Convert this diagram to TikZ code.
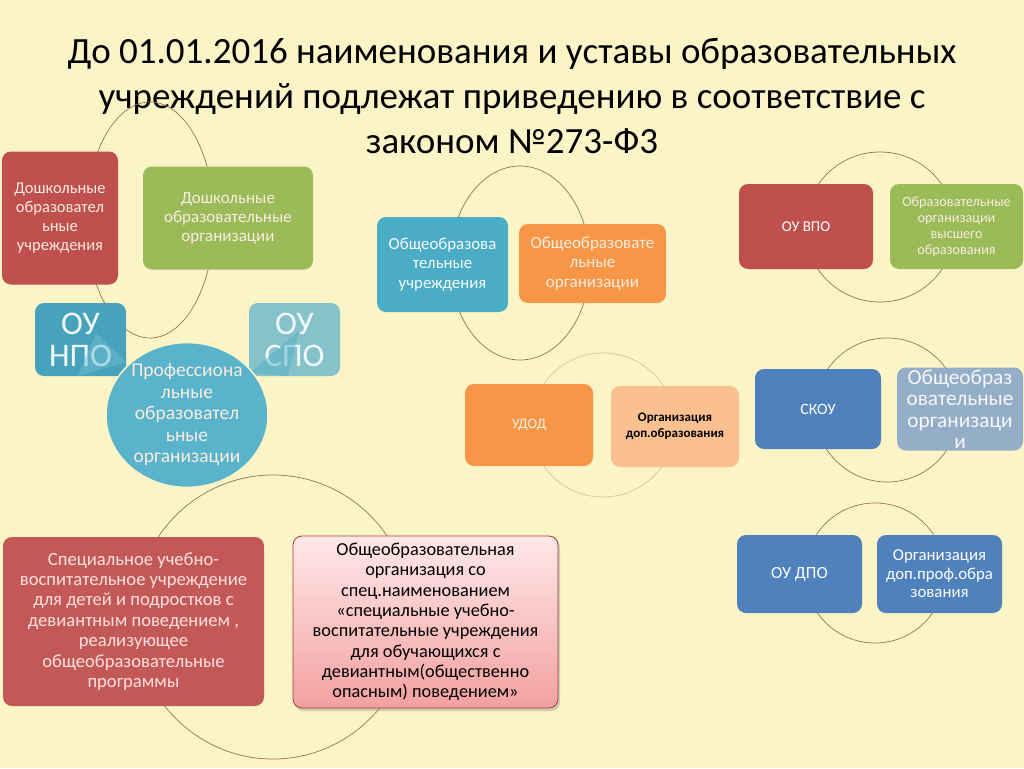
\documentclass[tikz,border=0pt]{standalone}
\usepackage{fontspec}
\setmainfont{Carlito}
\usepackage{tikz}
\usetikzlibrary{shadows, shapes.geometric}
\definecolor{bgyellow}{RGB}{251,244,199}
\definecolor{ofred}{RGB}{192,80,77}
\definecolor{ofgreen}{RGB}{155,187,89}
\definecolor{ofteal}{RGB}{75,172,198}
\definecolor{oforange}{RGB}{247,150,70}
\definecolor{oflightor}{RGB}{250,192,144}
\definecolor{ofblue}{RGB}{79,129,189}
\definecolor{greyblue}{RGB}{149,174,200}
\definecolor{paleteal}{RGB}{134,194,202}
\definecolor{arcbrown}{RGB}{150,115,85}
\definecolor{arcpale}{RGB}{215,195,160}
\definecolor{creamtext}{RGB}{250,236,222}
\definecolor{pinktop}{RGB}{255,232,232}
\definecolor{pinkbot}{RGB}{243,160,160}

\begin{document}
\begin{tikzpicture}[x=1pt, y=-1pt,
    box/.style={rounded corners=9pt, align=center, inner sep=2pt, text=creamtext},
    cyc/.style={draw=arcbrown, line width=0.7pt}]
    \useasboundingbox (0,0) rectangle (1024,768);
    \fill[bgyellow] (0,0) rectangle (1024,768);

    % Title
    \node[align=center, font=\fontsize{37}{45}\selectfont] (title) at (512,96)
        {До 01.01.2016 наименования и уставы образовательных\\
         учреждений подлежат приведению в соответствие с\\
         законом №273-Ф3};

    % Cycles
    \draw[cyc] (150,220) ellipse (64 and 118);
    \draw[cyc] (520,263) ellipse (70 and 97);
    \draw[cyc, draw=arcpale] (603,425) circle (72);
    \draw[cyc] (880,227) circle (75);
    \draw[cyc] (887,410) circle (72);
    \draw[cyc] (875,573) circle (70);
    \draw[cyc] (273,617) ellipse (139 and 142);

    % Boxes
    \node[box, fill=ofred, minimum width=116pt, minimum height=133pt,
          font=\fontsize{16.5}{19}\selectfont] (dou) at (60,218)
        {Дошкольные\\образовател\\ьные\\учреждения};
    \node[box, fill=ofgreen, minimum width=170pt, minimum height=103pt,
          font=\fontsize{17}{19}\selectfont] (doo) at (228,218)
        {Дошкольные\\образовательные\\организации};
    \node[box, fill=ofteal!95!black, minimum width=91pt, minimum height=73pt,
          text=white!92!ofteal, font=\fontsize{33}{32}\selectfont] (npo) at (80.5,339.5)
        {ОУ\\НПО};
    \node[box, fill=paleteal, minimum width=91pt, minimum height=73pt,
          text=white!92!ofteal, font=\fontsize{33}{32}\selectfont] (spo) at (294.5,339.5)
        {ОУ\\СПО};
    \fill[ofteal!80!white, opacity=0.5] (96,333) -- (126,362) -- (78,376) -- cycle;
    \fill[ofteal, opacity=0.45] (299,331) -- (288,376) -- (250,373) -- cycle;
    \node[ellipse, fill=ofteal!92!white, draw=bgyellow, line width=1.5pt,
          minimum width=162pt, minimum height=130pt, inner sep=0pt, align=center,
          text=creamtext, font=\fontsize{19.5}{21.5}\selectfont] (prof) at (187,415)
        {Профессиона\\льные\\образовател\\ьные\\организации};

    \node[box, fill=ofteal, minimum width=131pt, minimum height=95pt,
          text=white!95!ofteal, font=\fontsize{16.8}{19.5}\selectfont] (obu) at (442.5,264.5)
        {Общеобразова\\тельные\\учреждения};
    \node[box, fill=oforange, minimum width=147pt, minimum height=79pt,
          font=\fontsize{17}{19.5}\selectfont] (obo) at (592.5,263.5)
        {Общеобразовате\\льные\\организации};

    \node[box, fill=oforange, minimum width=128pt, minimum height=82pt,
          font=\fontsize{14.5}{15}\selectfont] (udod) at (529,425) {УДОД};
    \node[box, fill=oflightor, minimum width=128pt, minimum height=81pt,
          text=black, font=\fontsize{13}{16}\selectfont\bfseries] (orgdop) at (675,426.5)
        {Организация\\доп.образования};

    \node[box, fill=ofred, minimum width=134pt, minimum height=85pt,
          text=white, font=\fontsize{15}{16}\selectfont] (vpo) at (806,226.5) {ОУ ВПО};
    \node[box, fill=ofgreen, minimum width=133pt, minimum height=85pt,
          font=\fontsize{14.2}{16}\selectfont] (ovo) at (956.5,226.5)
        {Образовательные\\организации\\высшего\\образования};

    \node[box, fill=ofblue, minimum width=126pt, minimum height=80pt,
          text=white, font=\fontsize{15.8}{17}\selectfont] (skou) at (818,409) {СКОУ};
    \node[box, fill=greyblue, minimum width=126pt, minimum height=80pt,
          text=white!90!greyblue, font=\fontsize{21.3}{21.5}\selectfont] (oog) at (960,409)
        {Общеобраз\\овательные\\организаци\\и};

    \node[box, fill=ofblue, minimum width=125pt, minimum height=78pt,
          text=white, font=\fontsize{17}{17}\selectfont] (dpo) at (799.5,574) {ОУ ДПО};
    \node[box, fill=ofblue, minimum width=125pt, minimum height=78pt,
          text=white, font=\fontsize{16.8}{18.5}\selectfont] (odpo) at (939.5,574)
        {Организация\\доп.проф.обра\\зования};

    \node[box, fill=ofred!95!white, minimum width=261pt, minimum height=169pt,
          text=red!12!white, font=\fontsize{18.6}{20.4}\selectfont] (suvu) at (133.5,621.5)
        {Специальное учебно-\\воспитательное учреждение\\для детей и подростков с\\
         девиантным поведением ,\\реализующее\\общеобразовательные\\программы};
    \node[box, top color=pinktop, bottom color=pinkbot, draw=ofred!80!black, line width=0.8pt,
          drop shadow={opacity=0.35, shadow xshift=2pt, shadow yshift=-3pt},
          minimum width=265pt, minimum height=172pt,
          text=black, font=\fontsize{18.3}{20.3}\selectfont] (ooso) at (425.5,622)
        {Общеобразовательная\\организация со\\спец.наименованием\\
         «специальные учебно-\\воспитательные учреждения\\для обучающихся с\\
         девиантным(общественно\\опасным) поведением»};
\end{tikzpicture}
\end{document}
